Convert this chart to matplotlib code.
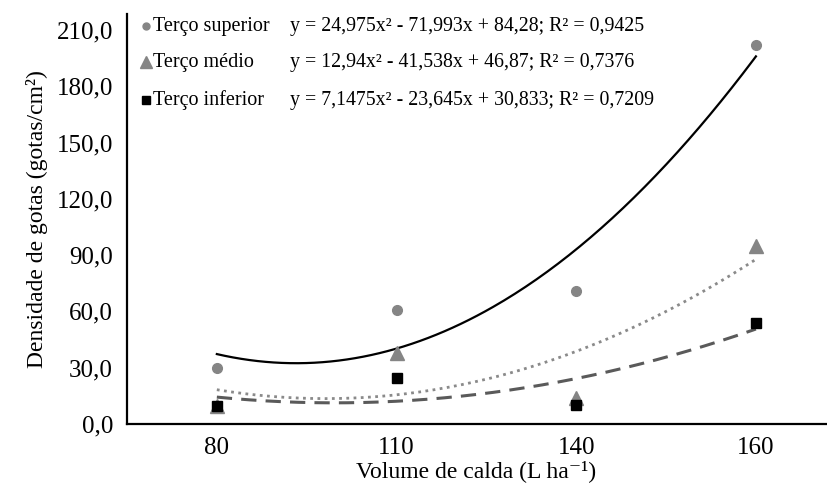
import numpy as np
import matplotlib
matplotlib.use('Agg')
import matplotlib.pyplot as plt

volumes = ['80', '110', '140', '160']
superior = [30.0, 60.5, 71.0, 202.0]
medio = [9.5, 38.0, 14.0, 95.0]
inferior = [9.8, 24.7, 10.2, 54.0]

# trendline coefficients (a, b, c) as printed on the chart
coef_superior = [24.975, -71.993, 84.28]
coef_medio = [12.94, -41.538, 46.87]
coef_inferior = [7.1475, -23.645, 30.833]

labels = ['Terço superior', 'Terço médio', 'Terço inferior']
equations = [
    'y = 24,975x² - 71,993x + 84,28; R² = 0,9425',
    'y = 12,94x² - 41,538x + 46,87; R² = 0,7376',
    'y = 7,1475x² - 23,645x + 30,833; R² = 0,7209',
]
yticks = [0, 30, 60, 90, 120, 150, 180, 210]

plt.rcParams['font.family'] = ['Liberation Serif', 'DejaVu Serif']

fig = plt.figure(figsize=(8.28, 4.9), dpi=100)
ax = fig.add_axes([127 / 828, 1 - 424 / 490, (826 - 127) / 828, (424 - 14) / 490])

x = np.arange(1, len(volumes) + 1)
xs = np.linspace(1, 4, 200)

styles = [
    dict(marker='o', color='#858585', ms=7),
    dict(marker='^', color='#858585', ms=10),
    dict(marker='s', color='black', ms=7.5),
]
curves = [
    dict(color='black', ls='-', lw=1.6),
    dict(color='#8a8a8a', ls=(0, (1, 1.6)), lw=2.0),
    dict(color='#5a5a5a', ls=(0, (5, 3)), lw=2.2),
]

for vals, coef, st, cv in zip([superior, medio, inferior],
                              [coef_superior, coef_medio, coef_inferior],
                              styles, curves):
    ax.plot(xs, np.polyval(coef, xs), zorder=2, **cv)
    ax.plot(x, vals, ls='none', marker=st['marker'], color=st['color'],
            ms=st['ms'], mec=st['color'], zorder=3)

ax.set_xlim(0.5, 4.39)
ax.set_ylim(0, 218.5)
ax.set_xticks(x)
ax.set_xticklabels(volumes)
ax.set_yticks(yticks)
ax.set_yticklabels([f'{v:.1f}'.replace('.', ',') for v in yticks])
ax.tick_params(length=0, labelsize=18, pad=10)
ax.tick_params(axis='x', pad=9)
for s in ['top', 'right']:
    ax.spines[s].set_visible(False)
for s in ['left', 'bottom']:
    ax.spines[s].set_linewidth(1.6)

ax.set_ylabel('Densidade de gotas (gotas/cm²)', fontsize=17, labelpad=6)
ax.set_xlabel('Volume de calda (L ha⁻¹)', fontsize=17, labelpad=1)

# legend with equations
rows_y = [26, 62, 100]
marker_ms = [5, 9, 6]
for lab, eq, st, ms, yy in zip(labels, equations, styles, marker_ms, rows_y):
    fy = 1 - yy / 490
    fig.lines.append(plt.Line2D([146 / 828], [fy], transform=fig.transFigure,
                                marker=st['marker'], color=st['color'], ls='none',
                                ms=ms))
    fig.text(153 / 828, fy, lab, fontsize=14.5, va='center', ha='left')
    fig.text(290 / 828, fy, eq, fontsize=14.3, va='center', ha='left')

fig.savefig('out.png', dpi=100)
